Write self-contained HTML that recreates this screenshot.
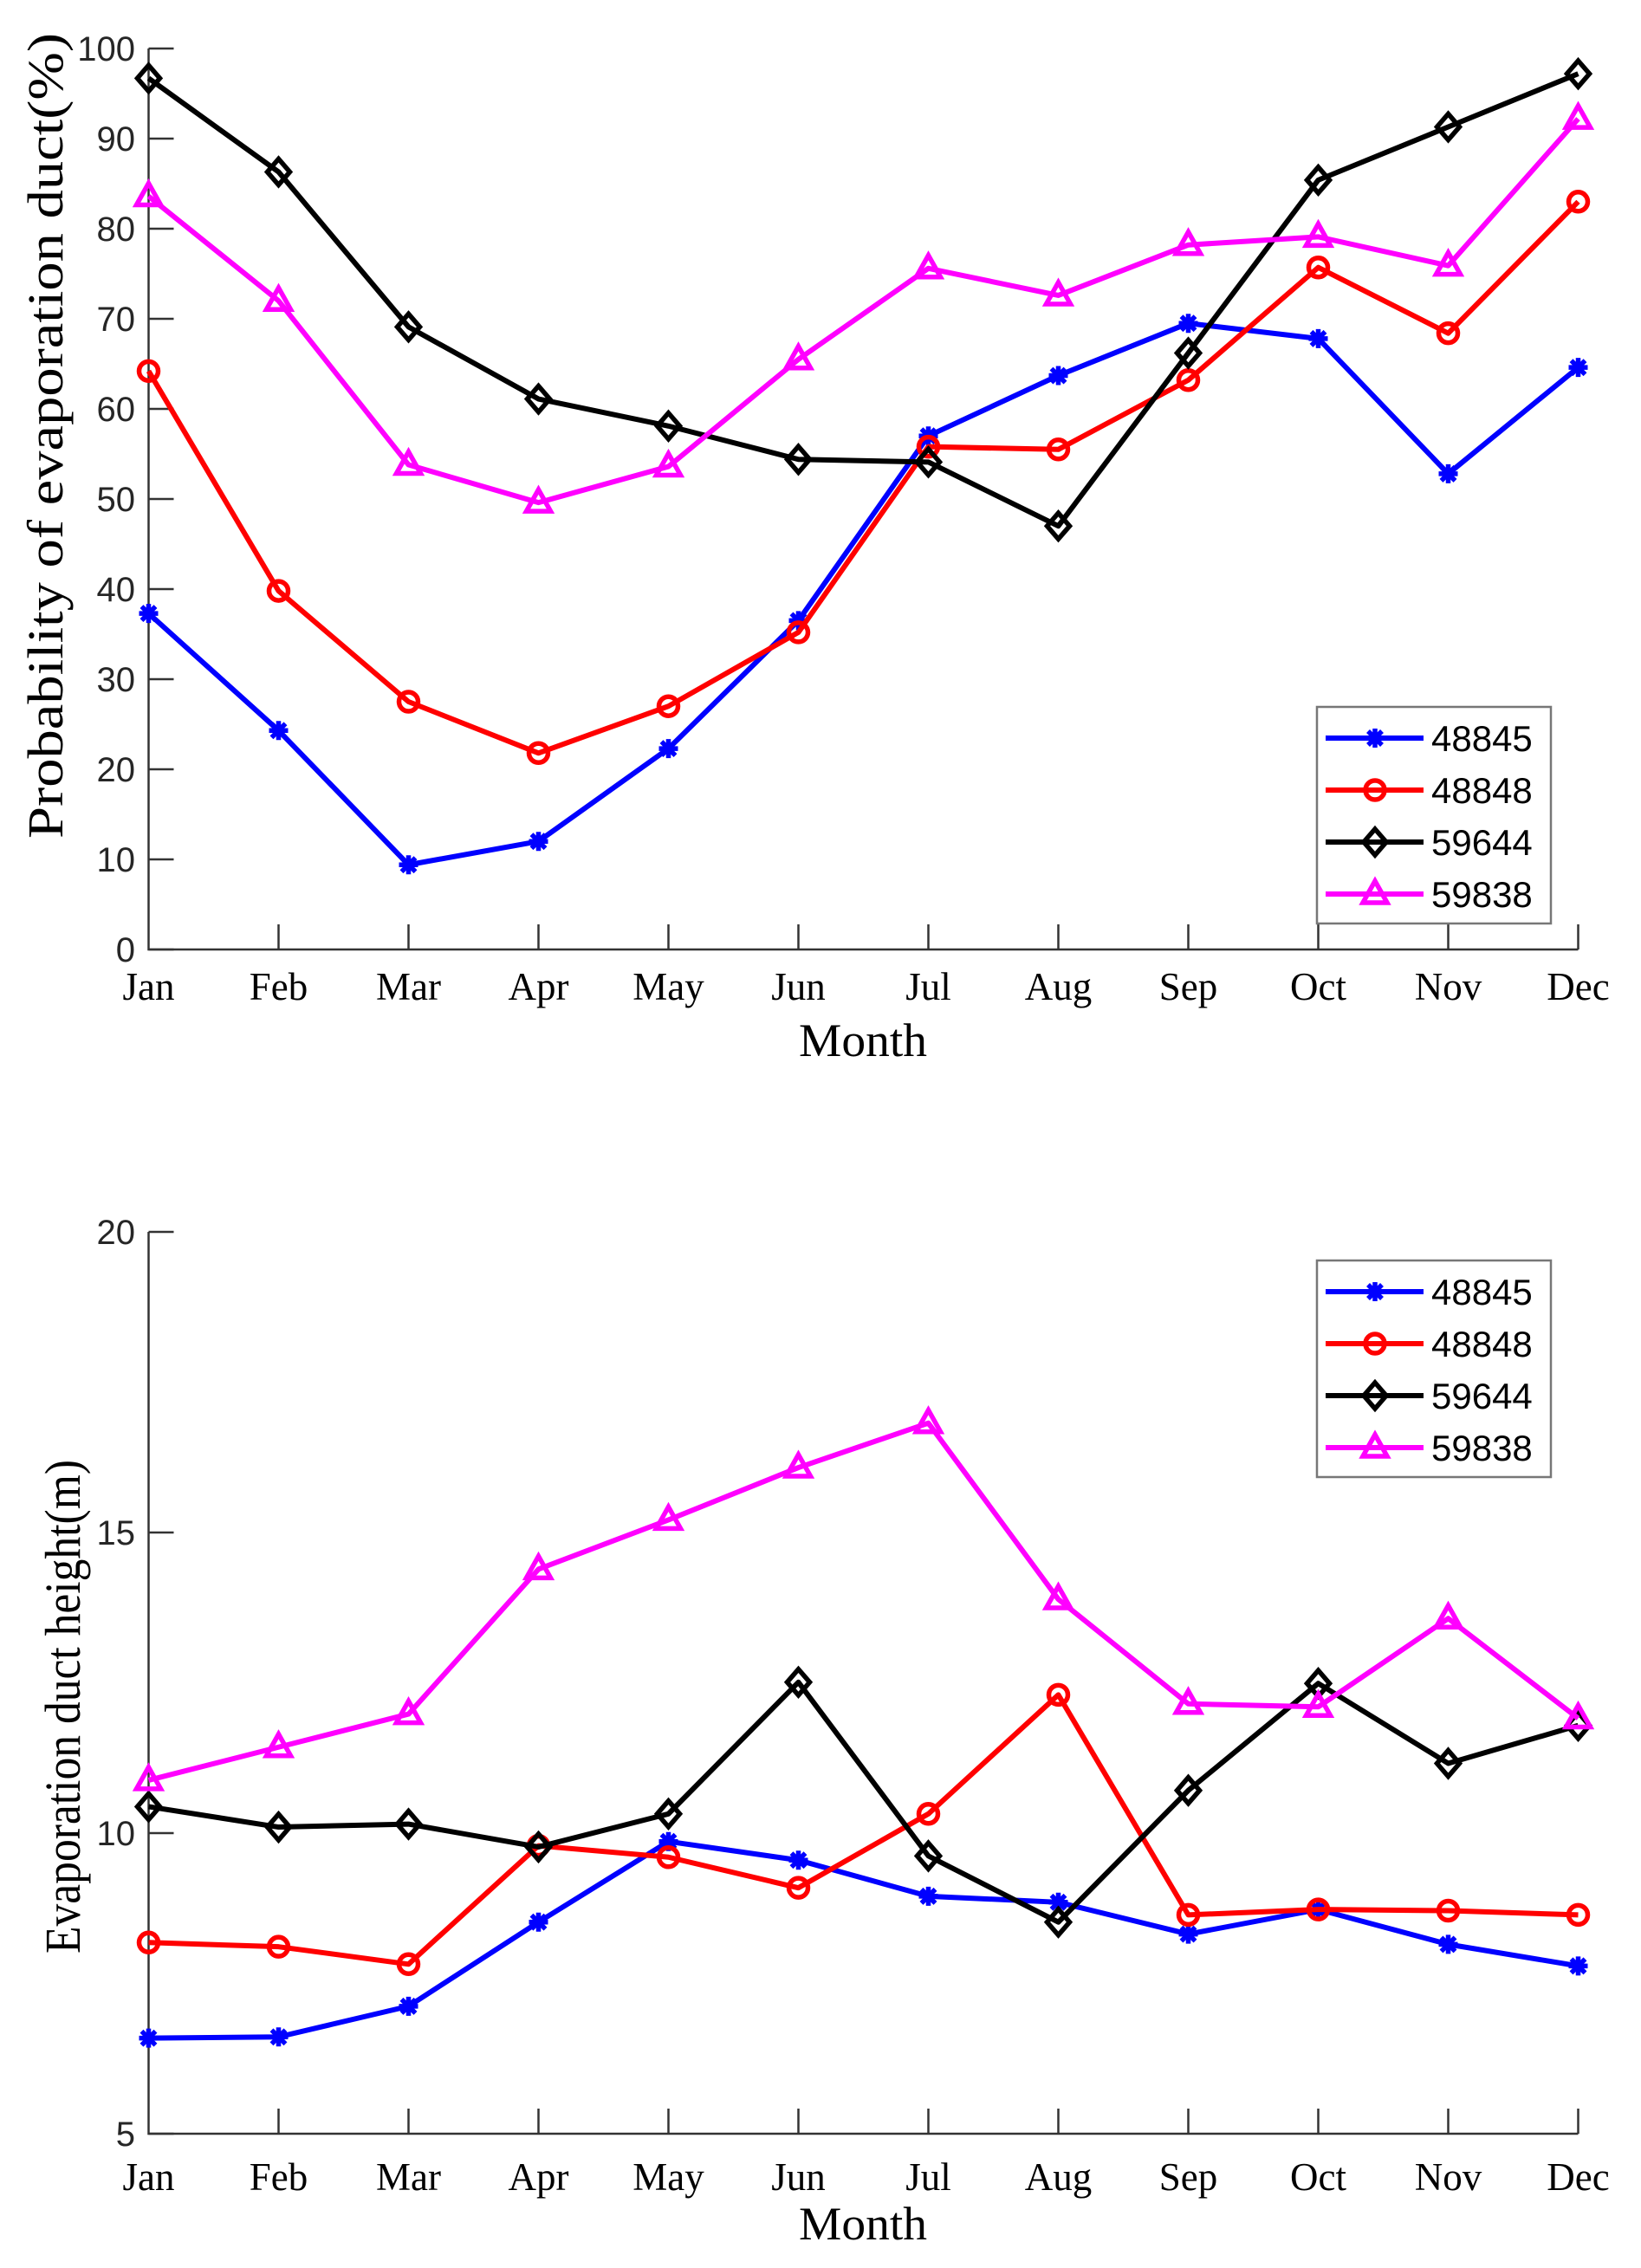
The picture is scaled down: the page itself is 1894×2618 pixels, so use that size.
<!DOCTYPE html>
<html><head><meta charset="utf-8"><style>
html,body{margin:0;padding:0;background:#fff;}
svg{display:block;}
</style></head><body>
<svg id="fig" width="1894" height="2618" viewBox="0 0 1894 2618" xmlns="http://www.w3.org/2000/svg">
<rect width="1894" height="2618" fill="#fff"/>
</svg>
<script>
const months = ["Jan","Feb","Mar","Apr","May","Jun","Jul","Aug","Sep","Oct","Nov","Dec"];
const stations = ["48845","48848","59644","59838"];
const probTicks = [0,10,20,30,40,50,60,70,80,90,100];
const heightTicks = [5,10,15,20];
const prob48845 = [37.3,24.3,9.4,12.0,22.3,36.5,57.0,63.7,69.5,67.8,52.8,64.6];
const prob48848 = [64.2,39.8,27.5,21.8,27.0,35.2,55.8,55.5,63.2,75.7,68.4,83.0];
const prob59644 = [96.7,86.3,69.1,61.1,58.1,54.4,54.1,47.0,66.2,85.4,91.3,97.2];
const prob59838 = [83.6,72.0,53.8,49.6,53.6,65.5,75.6,72.6,78.2,79.1,75.9,92.2];
const height48845 = [6.59,6.61,7.12,8.52,9.86,9.55,8.95,8.85,8.32,8.73,8.15,7.79];
const height48848 = [8.18,8.11,7.82,9.79,9.60,9.09,10.32,12.30,8.64,8.73,8.71,8.64];
const height59644 = [10.44,10.10,10.15,9.77,10.32,12.51,9.62,8.52,10.71,12.49,11.16,11.79];
const height59838 = [10.88,11.43,11.98,14.39,15.21,16.08,16.82,13.89,12.15,12.10,13.57,11.91];

const NS="http://www.w3.org/2000/svg";
const svg=document.getElementById('fig');
const colors=["#0000ff","#ff0000","#000000","#ff00ff"];
const markers=["star","circle","diamond","triangle"];
function el(tag,attrs,parent){const e=document.createElementNS(NS,tag);for(const k in attrs)e.setAttribute(k,attrs[k]);(parent||svg).appendChild(e);return e;}

function marker(g,type,x,y,c){
  if(type==="circle"){el('circle',{cx:x,cy:y,r:11,fill:'none',stroke:c,'stroke-width':5.5},g);}
  else if(type==="diamond"){el('path',{d:`M${x} ${y-15}L${x+13} ${y}L${x} ${y+15}L${x-13} ${y}Z`,fill:'none',stroke:c,'stroke-width':5.5},g);}
  else if(type==="triangle"){el('path',{d:`M${x} ${y-15}L${x+14} ${y+10}L${x-14} ${y+10}Z`,fill:'none',stroke:c,'stroke-width':5.5},g);}
  else {const d=`M${x-11} ${y}H${x+11}M${x} ${y-11}V${y+11}M${x-8} ${y-8}L${x+8} ${y+8}M${x-8} ${y+8}L${x+8} ${y-8}`;el('path',{d:d,fill:'none',stroke:c,'stroke-width':5.5},g);}
}

function chart(cfg){
  const g=el('g',{});
  
  
  const x0=171.5, dx=150;
  const xs=i=>x0+i*dx;
  const ys=v=>cfg.yBase-(v-cfg.yMin)*cfg.pxPer;
  const yTop=ys(cfg.yMax), yBot=ys(cfg.yMin);
  const ax=el('path',{d:`M${x0} ${yTop}V${yBot}H${xs(11)}`,fill:'none',stroke:'#333','stroke-width':2.5},g);
  
  
  cfg.ticks.forEach(t=>{
    const y=ys(t);
    el('line',{x1:x0,y1:y,x2:x0+29,y2:y,stroke:'#333','stroke-width':2.5},g);
    const tx=el('text',{x:156,y:y+14,'text-anchor':'end','font-family':'Liberation Sans, sans-serif','font-size':40,fill:'#262626'},g);
    tx.textContent=t;
    
    
  });
  months.forEach((m,i)=>{
    const x=xs(i);
    if(i>0) el('line',{x1:x,y1:yBot,x2:x,y2:yBot-29,stroke:'#333','stroke-width':2.5},g);
    const tx=el('text',{x:x,y:cfg.monthBase,'text-anchor':'middle','font-family':'Liberation Serif, serif','font-size':45,fill:'#000'},g);
    tx.textContent=m;
    
    
  });
  const xt=el('text',{x:996,y:cfg.titleBase,'text-anchor':'middle','font-family':'Liberation Serif, serif','font-size':54,fill:'#000',textLength:148,lengthAdjust:'spacingAndGlyphs'},g);
  xt.textContent='Month';
  
  
  const yt=el('text',{x:0,y:0,'text-anchor':'middle','font-family':'Liberation Serif, serif','font-size':58,fill:'#000',transform:`translate(${cfg.yTitleX},${cfg.yTitleY}) rotate(-90)`,textLength:cfg.yTitleLen,lengthAdjust:'spacingAndGlyphs'},g);
  yt.textContent=cfg.yTitle;
  
  
  cfg.series.forEach((s,k)=>{
    const sg=el('g',{},g);
    
    
    const pts=s.map((v,i)=>xs(i)+','+ys(v)).join(' ');
    el('polyline',{points:pts,fill:'none',stroke:colors[k],'stroke-width':6,'stroke-linejoin':'round'},sg);
    s.forEach((v,i)=>marker(sg,markers[k],xs(i),ys(v),colors[k]));
  });
  const lg=el('g',{},g);
  
  
  el('rect',{x:1520,y:cfg.legTop,width:270,height:250,fill:'#fff',stroke:'#777','stroke-width':2.5},lg);
  stations.forEach((st,k)=>{
    const y=cfg.legTop+36+k*60;
    const eg=el('g',{},lg);
    
    
    el('line',{x1:1530,y1:y,x2:1643,y2:y,stroke:colors[k],'stroke-width':6},eg);
    marker(eg,markers[k],1587,y,colors[k]);
    const t=el('text',{x:1652,y:y+15,'font-family':'Liberation Sans, sans-serif','font-size':42,fill:'#000'},eg);
    t.textContent=st;
  });
}

chart({name:'probability-chart',yMin:0,yMax:100,yBase:1096,pxPer:10.4,ticks:probTicks,
  monthBase:1154,titleBase:1219,yTitle:'Probability of evaporation duct(%)',yTitleX:72,yTitleY:503,yTitleLen:930,
  series:[prob48845,prob48848,prob59644,prob59838],legTop:816});
chart({name:'height-chart',yMin:5,yMax:20,yBase:2463,pxPer:69.4,ticks:heightTicks,
  monthBase:2528,titleBase:2585,yTitle:'Evaporation duct height(m)',yTitleX:92,yTitleY:1970,yTitleLen:570,
  series:[height48845,height48848,height59644,height59838],legTop:1455});
</script>
</body></html>
